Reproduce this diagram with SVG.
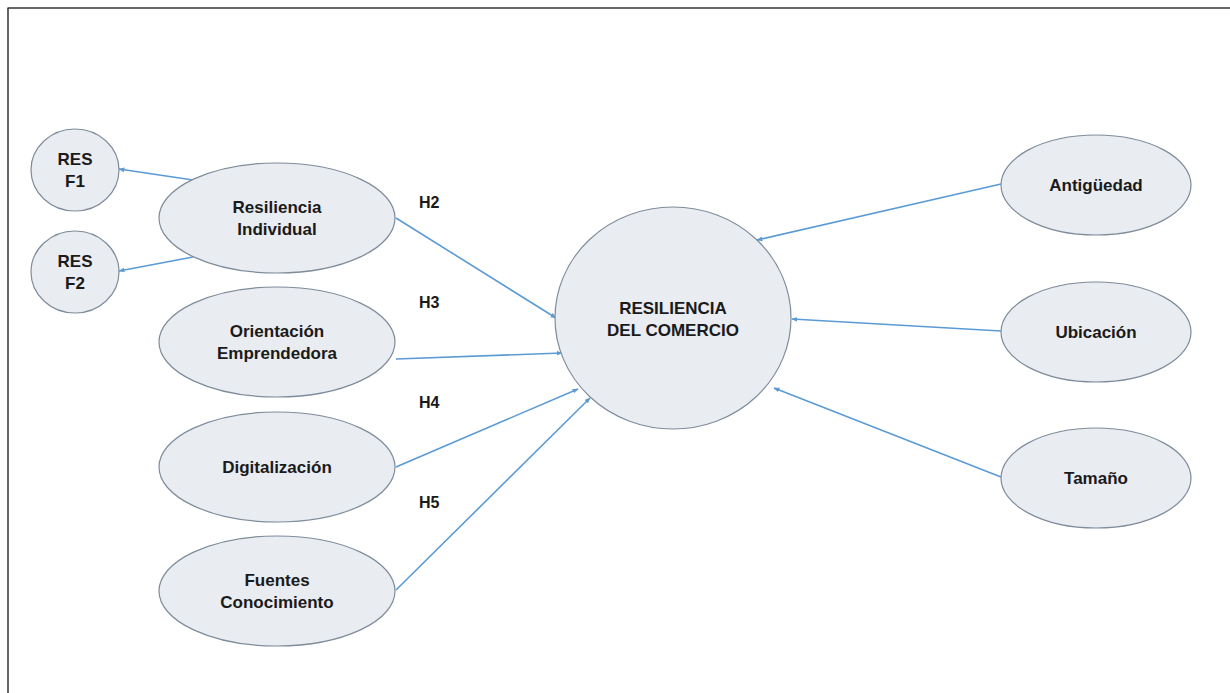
<svg xmlns="http://www.w3.org/2000/svg" width="1230" height="693" viewBox="0 0 1230 693">
  <style>
    .node ellipse { fill: #e9ecf1; stroke: #7f8c9a; stroke-width: 1.2; }
    .lbl { font-family: "Liberation Sans", Arial, sans-serif; font-weight: bold; font-size: 17px; fill: #1a1a1a; text-anchor: middle; }
    .hyp { font-family: "Liberation Sans", Arial, sans-serif; font-weight: bold; font-size: 16px; fill: #1a1a1a; }
    .edge { stroke: #5b9bd5; stroke-width: 1.6; fill: none; marker-end: url(#arrow); }
  </style>
  <defs>
    <marker id="arrow" viewBox="0 0 10 10" refX="9" refY="5" markerWidth="6" markerHeight="6" markerUnits="userSpaceOnUse" orient="auto">
      <path d="M0,1 L10,5 L0,9 Z" fill="#5b9bd5"/>
    </marker>
  </defs>

  <rect x="0" y="0" width="1230" height="693" fill="#ffffff"/>
  <!-- frame -->
  <line x1="7.5" y1="8" x2="1230" y2="8" stroke="#333" stroke-width="1.5"/>
  <line x1="8" y1="8" x2="8" y2="693" stroke="#333" stroke-width="1.5"/>

  <!-- connectors -->
  <g id="connectors">
    <line class="edge" x1="193" y1="180" x2="119" y2="169"/>
    <line class="edge" x1="193" y1="257" x2="119" y2="271"/>
    <line class="edge" x1="396" y1="218" x2="556" y2="318"/>
    <line class="edge" x1="396" y1="359" x2="562" y2="353"/>
    <line class="edge" x1="396" y1="467" x2="578" y2="389"/>
    <line class="edge" x1="396" y1="590" x2="590" y2="398"/>
    <line class="edge" x1="1001" y1="184" x2="757" y2="240"/>
    <line class="edge" x1="1001" y1="331" x2="792" y2="319"/>
    <line class="edge" x1="1001" y1="477" x2="774" y2="388"/>
  </g>

  <!-- hypothesis labels -->
  <g id="hypotheses">
    <text class="hyp" x="419" y="208">H2</text>
    <text class="hyp" x="419" y="308">H3</text>
    <text class="hyp" x="419" y="408">H4</text>
    <text class="hyp" x="419" y="508">H5</text>
  </g>

  <g id="res-f1" class="node">
    <ellipse cx="75" cy="170" rx="44" ry="41"/>
    <text class="lbl" x="75" y="165">RES</text>
    <text class="lbl" x="75" y="187">F1</text>
  </g>
  <g id="res-f2" class="node">
    <ellipse cx="75" cy="272" rx="44" ry="41"/>
    <text class="lbl" x="75" y="267">RES</text>
    <text class="lbl" x="75" y="289">F2</text>
  </g>

  <g id="resiliencia-individual" class="node">
    <ellipse cx="277" cy="218" rx="118" ry="55"/>
    <text class="lbl" x="277" y="213">Resiliencia</text>
    <text class="lbl" x="277" y="235">Individual</text>
  </g>
  <g id="orientacion-emprendedora" class="node">
    <ellipse cx="277" cy="342" rx="118" ry="55"/>
    <text class="lbl" x="277" y="337">Orientación</text>
    <text class="lbl" x="277" y="359">Emprendedora</text>
  </g>
  <g id="digitalizacion" class="node">
    <ellipse cx="277" cy="467" rx="118" ry="55"/>
    <text class="lbl" x="277" y="473">Digitalización</text>
  </g>
  <g id="fuentes-conocimiento" class="node">
    <ellipse cx="277" cy="591" rx="118" ry="55"/>
    <text class="lbl" x="277" y="586">Fuentes</text>
    <text class="lbl" x="277" y="608">Conocimiento</text>
  </g>

  <g id="resiliencia-comercio" class="node">
    <ellipse cx="673" cy="318" rx="118" ry="111"/>
    <text class="lbl" x="673" y="314">RESILIENCIA</text>
    <text class="lbl" x="673" y="336">DEL COMERCIO</text>
  </g>

  <g id="antiguedad" class="node">
    <ellipse cx="1096" cy="185" rx="95" ry="50"/>
    <text class="lbl" x="1096" y="191">Antigüedad</text>
  </g>
  <g id="ubicacion" class="node">
    <ellipse cx="1096" cy="332" rx="95" ry="50"/>
    <text class="lbl" x="1096" y="338">Ubicación</text>
  </g>
  <g id="tamano" class="node">
    <ellipse cx="1096" cy="478" rx="95" ry="50"/>
    <text class="lbl" x="1096" y="484">Tamaño</text>
  </g>
</svg>
